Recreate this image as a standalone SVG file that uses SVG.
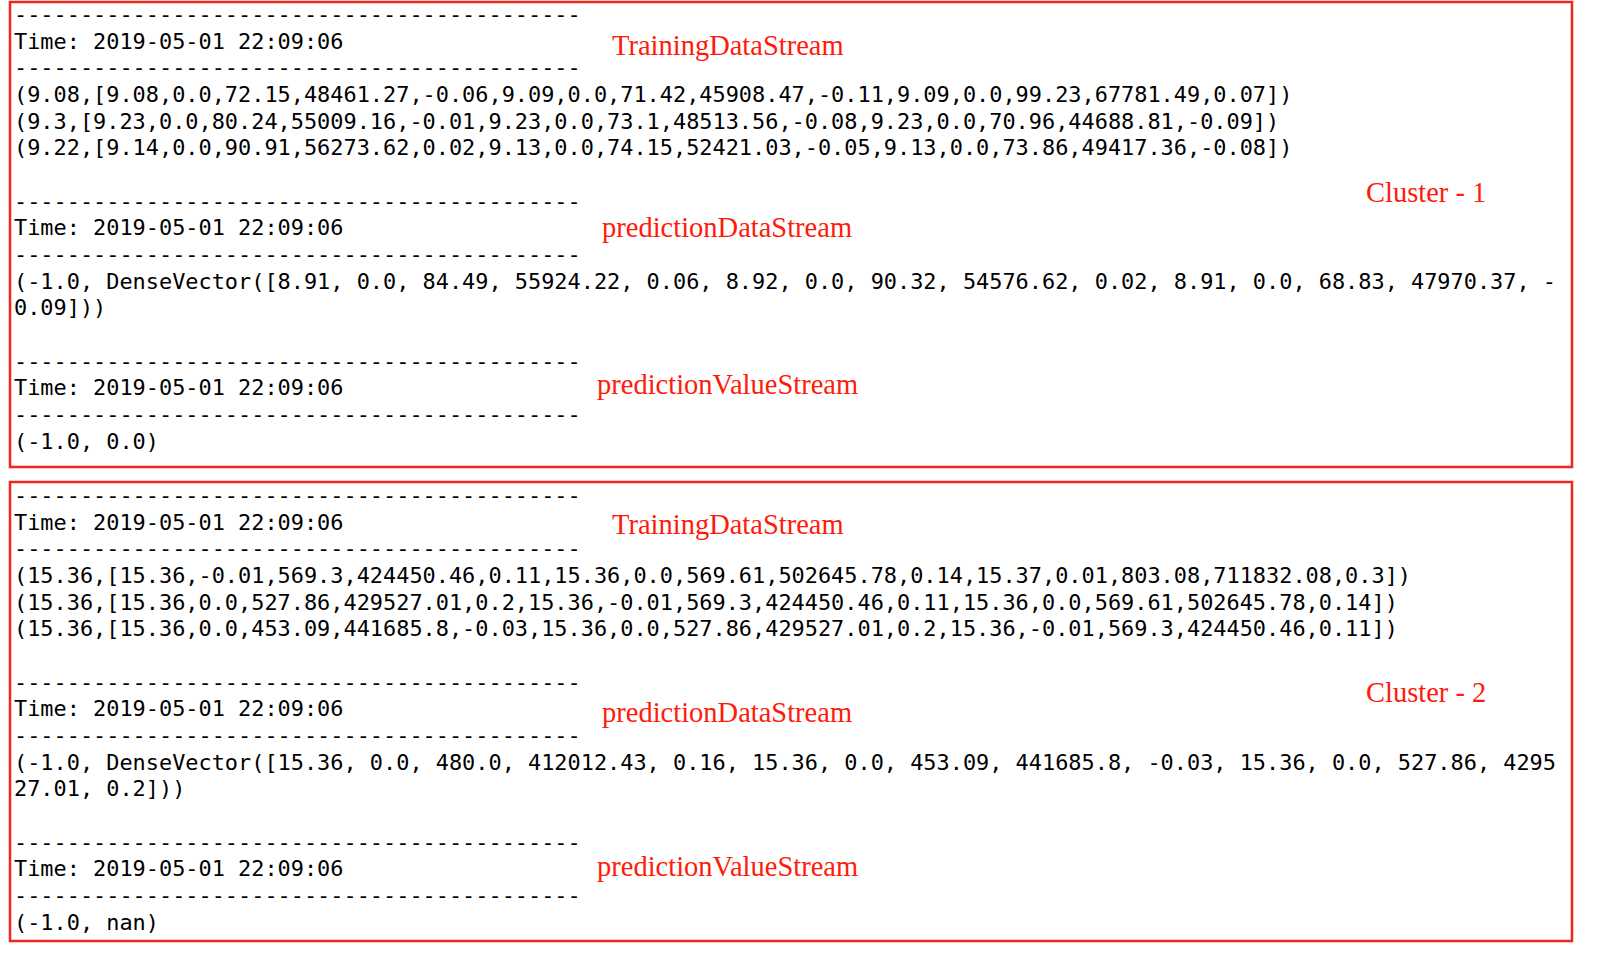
<svg xmlns="http://www.w3.org/2000/svg" width="1600" height="963" viewBox="0 0 1600 963">
<style>
.box{fill:none;stroke:#f0261c;stroke-width:2.5}
.mono{font-family:"DejaVu Sans Mono","Liberation Mono",monospace;font-size:21.9px;fill:#000}
.lbl{font-family:"Liberation Serif","Times New Roman",serif;font-size:28.5px;fill:#ff1a0a}
</style>
<rect width="1600" height="963" fill="#fff"/>
<g id="cluster1">
<rect class="box" x="10" y="2" width="1562" height="465"/>
<text class="mono" x="14" y="22">-------------------------------------------</text>
<text class="mono" x="14" y="48.7">Time: 2019-05-01 22:09:06</text>
<text class="mono" x="14" y="75.3">-------------------------------------------</text>
<text class="mono" x="14" y="102">(9.08,[9.08,0.0,72.15,48461.27,-0.06,9.09,0.0,71.42,45908.47,-0.11,9.09,0.0,99.23,67781.49,0.07])</text>
<text class="mono" x="14" y="128.7">(9.3,[9.23,0.0,80.24,55009.16,-0.01,9.23,0.0,73.1,48513.56,-0.08,9.23,0.0,70.96,44688.81,-0.09])</text>
<text class="mono" x="14" y="155.3">(9.22,[9.14,0.0,90.91,56273.62,0.02,9.13,0.0,74.15,52421.03,-0.05,9.13,0.0,73.86,49417.36,-0.08])</text>
<text class="mono" x="14" y="208.7">-------------------------------------------</text>
<text class="mono" x="14" y="235.3">Time: 2019-05-01 22:09:06</text>
<text class="mono" x="14" y="262">-------------------------------------------</text>
<text class="mono" x="14" y="288.7">(-1.0, DenseVector([8.91, 0.0, 84.49, 55924.22, 0.06, 8.92, 0.0, 90.32, 54576.62, 0.02, 8.91, 0.0, 68.83, 47970.37, -</text>
<text class="mono" x="14" y="315.3">0.09]))</text>
<text class="mono" x="14" y="368.7">-------------------------------------------</text>
<text class="mono" x="14" y="395.3">Time: 2019-05-01 22:09:06</text>
<text class="mono" x="14" y="422">-------------------------------------------</text>
<text class="mono" x="14" y="448.7">(-1.0, 0.0)</text>
<text class="lbl" x="612" y="55">TrainingDataStream</text>
<text class="lbl" x="602" y="237">predictionDataStream</text>
<text class="lbl" x="597" y="394">predictionValueStream</text>
<text class="lbl" x="1366" y="202">Cluster - 1</text>
</g>
<g id="cluster2">
<rect class="box" x="10" y="482" width="1562" height="459"/>
<text class="mono" x="14" y="503">-------------------------------------------</text>
<text class="mono" x="14" y="529.7">Time: 2019-05-01 22:09:06</text>
<text class="mono" x="14" y="556.3">-------------------------------------------</text>
<text class="mono" x="14" y="583">(15.36,[15.36,-0.01,569.3,424450.46,0.11,15.36,0.0,569.61,502645.78,0.14,15.37,0.01,803.08,711832.08,0.3])</text>
<text class="mono" x="14" y="609.7">(15.36,[15.36,0.0,527.86,429527.01,0.2,15.36,-0.01,569.3,424450.46,0.11,15.36,0.0,569.61,502645.78,0.14])</text>
<text class="mono" x="14" y="636.3">(15.36,[15.36,0.0,453.09,441685.8,-0.03,15.36,0.0,527.86,429527.01,0.2,15.36,-0.01,569.3,424450.46,0.11])</text>
<text class="mono" x="14" y="689.7">-------------------------------------------</text>
<text class="mono" x="14" y="716.3">Time: 2019-05-01 22:09:06</text>
<text class="mono" x="14" y="743">-------------------------------------------</text>
<text class="mono" x="14" y="769.7">(-1.0, DenseVector([15.36, 0.0, 480.0, 412012.43, 0.16, 15.36, 0.0, 453.09, 441685.8, -0.03, 15.36, 0.0, 527.86, 4295</text>
<text class="mono" x="14" y="796.3">27.01, 0.2]))</text>
<text class="mono" x="14" y="849.7">-------------------------------------------</text>
<text class="mono" x="14" y="876.3">Time: 2019-05-01 22:09:06</text>
<text class="mono" x="14" y="903">-------------------------------------------</text>
<text class="mono" x="14" y="929.7">(-1.0, nan)</text>
<text class="lbl" x="612" y="534">TrainingDataStream</text>
<text class="lbl" x="602" y="722">predictionDataStream</text>
<text class="lbl" x="597" y="876">predictionValueStream</text>
<text class="lbl" x="1366" y="702">Cluster - 2</text>
</g>
</svg>
